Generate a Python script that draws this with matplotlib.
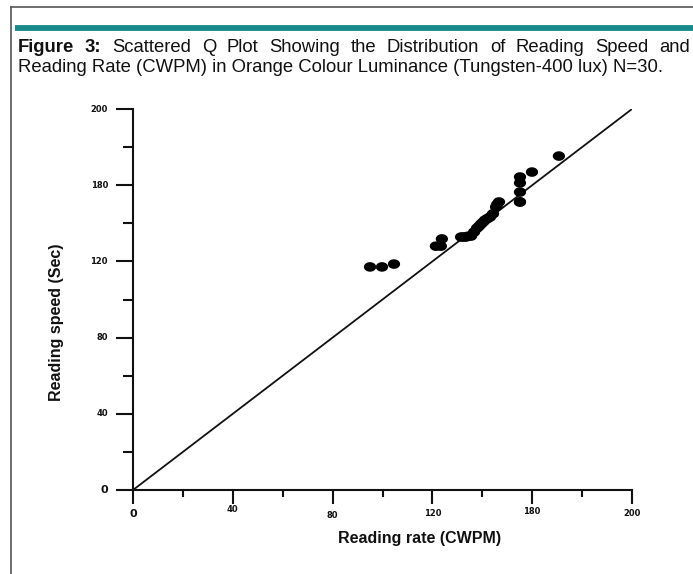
import matplotlib
matplotlib.use("Agg")
import matplotlib.pyplot as plt
import numpy as np
from matplotlib.lines import Line2D
from matplotlib.ticker import FixedLocator

# ---------------- data ----------------
reading_rate = [95.0, 99.8, 104.6, 121.4, 123.4, 123.8, 131.5, 132.5, 133.5, 134.5,
                135.5, 136.7, 137.9, 138.7, 139.5, 140.3, 141.1, 142.1, 143.1, 144.3,
                145.5, 146.0, 146.7, 155.1, 155.1, 155.1, 155.1, 155.1, 159.9, 170.7]
reading_speed = [117.1, 117.1, 118.6, 128.0, 128.0, 131.8, 132.8, 132.8, 132.8, 133.3,
                 133.3, 135.4, 137.5, 138.5, 139.6, 140.6, 141.7, 142.5, 143.3, 145.0,
                 148.6, 150.0, 151.2, 151.2, 151.2, 156.4, 161.2, 164.3, 166.9, 175.3]
ref_line = [0, 200]
x_ticks = [0, 40, 80, 120, 160, 200]
x_tick_labels = ["0", "40", "80", "120", "180", "200"]
y_ticks = [0, 40, 80, 120, 160, 200]
y_tick_labels = ["0", "40", "80", "120", "180", "200"]
minor_ticks = [20, 60, 100, 140, 180]

title_line1 = [("Figure", "bold"), ("3:", "bold"), ("Scattered", "normal"), ("Q", "normal"),
               ("Plot", "normal"), ("Showing", "normal"), ("the", "normal"),
               ("Distribution", "normal"), ("of", "normal"), ("Reading", "normal"),
               ("Speed", "normal"), ("and", "normal")]
title_line2 = "Reading Rate (CWPM) in Orange Colour Luminance (Tungsten-400 lux) N=30."

W, H = 693, 574
fig = plt.figure(figsize=(W / 100, H / 100), dpi=100)
fig.patch.set_facecolor("white")

def fx(px):
    return px / W

def fy(py):
    return 1 - py / H

# frame lines and teal bar
fig.add_artist(Line2D([fx(11), fx(11)], [fy(7), fy(574)], color="#555555", lw=1.2))
fig.add_artist(Line2D([fx(11), fx(693)], [fy(7), fy(7)], color="#555555", lw=1.2))
fig.add_artist(Line2D([fx(15), fx(693)], [fy(28), fy(28)], color="#178a8a", lw=4.2,
                      solid_capstyle="butt"))

# title
tfont = ["Liberation Sans", "DejaVu Sans"]
fs = 13.3
renderer = fig.canvas.get_renderer()
texts = []
widths = []
for word, weight in title_line1:
    t = fig.text(0, fy(47), word, fontsize=fs, fontweight=weight, family=tfont,
                 va="center", ha="left", color="#111111")
    texts.append(t)
    widths.append(t.get_window_extent(renderer).width)
left_px, right_px = 18, 690
gap = (right_px - left_px - sum(widths)) / (len(widths) - 1)
cur = left_px
for t, w in zip(texts, widths):
    t.set_x(fx(cur))
    cur += w + gap
fig.text(fx(18), fy(68), title_line2, fontsize=fs, family=tfont, va="center",
         ha="left", color="#111111")

# axes
ax = fig.add_axes([fx(133), fy(490), fx(632) - fx(133), fy(109) - fy(490)])
ax.set_xlim(0, 200)
ax.set_ylim(0, 200)
for s in ["top", "right"]:
    ax.spines[s].set_visible(False)
for s in ["left", "bottom"]:
    ax.spines[s].set_linewidth(1.5)
    ax.spines[s].set_color("#111111")

ax.plot(ref_line, ref_line, color="#111111", lw=1.3, zorder=2)

# ellipse-shaped marker
theta = np.linspace(0, 2 * np.pi, 40)
ell = np.column_stack([np.cos(theta) * 1.0, np.sin(theta) * 0.78])
ax.scatter(reading_rate, reading_speed, marker=ell, s=78, color="black",
           edgecolors="none", zorder=3, clip_on=False)

ax.xaxis.set_major_locator(FixedLocator(x_ticks))
ax.yaxis.set_major_locator(FixedLocator(y_ticks))
ax.xaxis.set_minor_locator(FixedLocator(minor_ticks))
ax.yaxis.set_minor_locator(FixedLocator(minor_ticks))
ax.set_xticklabels([])
ax.set_yticklabels([])
ax.tick_params(axis="x", which="major", direction="out", length=10, width=1.5, color="#111111")
ax.tick_params(axis="x", which="minor", direction="out", length=5, width=1.5, color="#111111")
ax.tick_params(axis="y", which="major", direction="out", length=12, width=1.5, color="#111111")
ax.tick_params(axis="y", which="minor", direction="out", length=7, width=1.5, color="#111111")

# tick labels
x_label_offsets = [-24, -20, -25, -23, -22, -24]
for v, lab, off in zip(x_ticks, x_tick_labels, x_label_offsets):
    fsz = 8 if lab == "0" else 6
    ax.annotate(lab, xy=(v, 0), xycoords="data", xytext=(0, off * 0.72),
                textcoords="offset points", ha="center", va="center",
                fontsize=fsz, fontweight="bold", family="DejaVu Sans", color="#111111")
for v, lab in zip(y_ticks, y_tick_labels):
    fsz = 8 if lab == "0" else 6
    ax.annotate(lab, xy=(0, v), xycoords="data", xytext=(-18, 0),
                textcoords="offset points", ha="right", va="center",
                fontsize=fsz, fontweight="bold", family="DejaVu Sans", color="#111111")

fig.text(fx(420), fy(538), "Reading rate (CWPM)", fontsize=11.5, fontweight="bold",
         family=tfont, ha="center", va="center", color="#111111")
fig.text(fx(57), fy(322), "Reading speed (Sec)", fontsize=11.5, fontweight="bold",
         family=tfont, ha="center", va="center", rotation=90, color="#111111")

fig.savefig("out.png", dpi=100)
